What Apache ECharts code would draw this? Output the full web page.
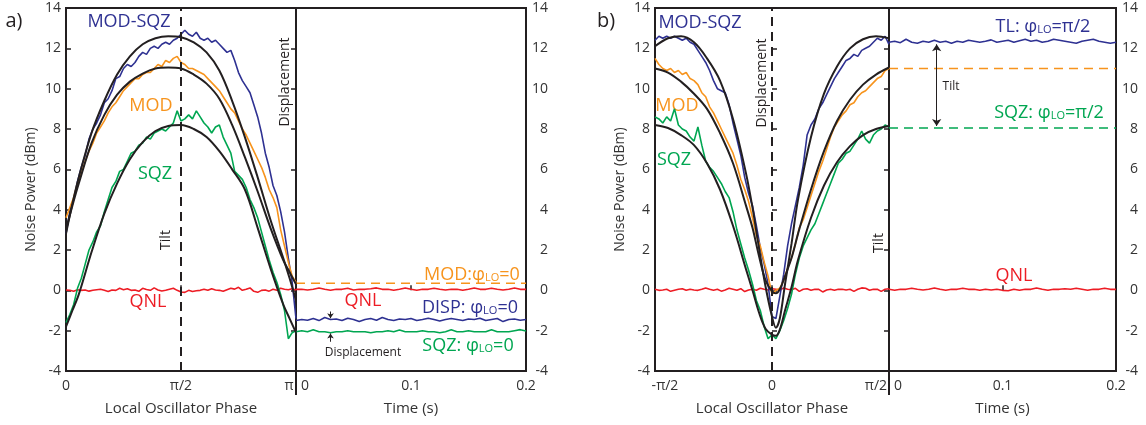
<!DOCTYPE html>
<html><head><meta charset="utf-8">
<script src="https://cdn.jsdelivr.net/npm/echarts@6/dist/echarts.min.js"></script>
<style>html,body{margin:0;padding:0;background:#fff}#c{width:1146px;height:425px}</style>
</head><body><div id="c"></div><script>
// ---------- DATA ----------
const phaseA = [0,3,6,9,12,15,18,21,24,27,30,33,36,39,42,45,48,51,54,57,60,63,66,69,72,75,78,81,84,87,90,93,96,99,102,105,108,111,114,117,120,123,126,129,132,135,138,141,144,147,150,153,156,159,162,165,168,171,174,177,180];
const phaseB = [-90,-87,-84,-81,-78,-75,-72,-69,-66,-63,-60,-57,-54,-51,-48,-45,-42,-39,-36,-33,-30,-27,-24,-21,-18,-15,-12,-9,-6,-3,0,3,6,9,12,15,18,21,24,27,30,33,36,39,42,45,48,51,54,57,60,63,66,69,72,75,78,81,84,87,90];
const timeS = [0,0.005,0.01,0.015,0.02,0.025,0.03,0.035,0.04,0.045,0.05,0.055,0.06,0.065,0.07,0.075,0.08,0.085,0.09,0.095,0.1,0.105,0.11,0.115,0.12,0.125,0.13,0.135,0.14,0.145,0.15,0.155,0.16,0.165,0.17,0.175,0.18,0.185,0.19,0.195,0.2];

// panel a, measured (phase scan)
const modSqzA = [2.8,3.9,4.5,5.4,6.1,6.7,7.5,8.0,8.3,8.7,9.3,9.5,9.9,10.5,10.6,11.0,11.2,11.1,11.3,11.6,11.8,11.7,12.0,12.1,12.0,12.2,12.3,12.2,12.4,12.5,12.7,12.9,12.7,12.6,12.8,12.5,12.4,12.5,12.3,12.4,12.2,12.0,11.8,11.9,11.4,10.8,10.4,10.1,9.8,9.2,8.6,7.8,6.8,6.1,5.2,4.7,3.9,2.9,1.6,0.4,-1.4];
const modA = [3.6,4.1,4.6,5.3,5.8,6.4,6.9,7.3,7.8,8.1,8.4,8.8,9.1,9.3,9.6,9.9,10.1,10.3,10.5,10.5,10.7,10.8,10.8,11.0,11.2,11.1,11.4,11.3,11.5,11.6,11.3,11.2,11.0,11.0,10.9,10.8,10.7,10.5,10.3,10.1,9.9,9.6,9.3,9.0,8.8,8.4,8.0,7.7,7.3,6.9,6.5,6.1,5.6,5.0,4.6,4.1,3.0,2.2,1.4,0.7,0.4];
const sqzA = [-1.6,-1.2,-0.7,0.1,0.6,1.3,2.0,2.4,2.9,3.2,3.9,4.5,5.1,5.4,5.9,6.0,6.4,6.8,6.9,7.2,7.3,7.6,7.5,7.8,7.9,8.0,7.9,8.1,8.3,8.9,8.4,8.5,8.7,8.5,8.9,8.6,8.3,8.1,7.8,8.1,8.2,7.6,7.2,6.8,5.9,5.7,5.5,5.1,4.5,4.1,3.6,2.9,2.2,1.5,0.9,0.4,-0.2,-1.0,-2.4,-2.1,-2.0];
const qnlA = [0.02,0.0,-0.05,0.03,0.0,0.02,-0.04,0.0,0.03,0.05,0.0,-0.06,0.02,0.0,0.1,0.03,0.08,0.0,0.02,-0.05,0.1,0.04,0.0,0.12,0.02,-0.03,0.0,0.05,0.1,0.0,-0.08,-0.1,0.0,-0.06,-0.02,0.0,0.05,0.0,0.08,0.02,0.0,-0.05,0.03,0.1,0.06,0.15,0.0,0.05,0.12,-0.05,-0.1,0.0,0.02,-0.04,0.05,0.0,0.1,0.05,0.03,0.08,0.02];
// panel a, fits
const fitPhaseA = [0,5,10,20,30,40,50,60,70,80,90,100,110,120,130,140,150,160,170,175,180];
const modSqzFitA = [2.8,4.3,5.6,7.8,9.4,10.7,11.6,12.2,12.5,12.6,12.55,12.3,11.8,10.9,9.4,7.6,5.6,3.5,1.6,0.6,-0.5];
const modFitA = [3.0,4.2,5.3,7.3,8.7,9.7,10.35,10.75,11.0,11.05,11.0,10.7,10.25,9.5,8.2,6.6,4.9,3.1,1.5,0.9,0.3];
const sqzFitA = [-1.8,-1.0,-0.2,1.9,3.8,5.3,6.5,7.35,7.9,8.15,8.2,8.0,7.6,6.9,6.0,5.0,3.1,1.1,-0.7,-1.4,-2.1];
// panel a, time traces
const qnlTimeA = [0.05,0.05,0.02,0.05,0.12,0.05,0.0,0.05,0.05,0.1,0.02,0.05,0.05,0.08,0.12,0.05,0.05,0.0,0.05,0.12,0.05,0.0,0.05,0.05,0.1,0.05,0.02,0.05,0.05,0.0,0.05,0.12,0.05,0.05,0.1,0.05,0.02,0.05,0.12,0.05,0.05];
const dispTimeA = [-1.5,-1.45,-1.48,-1.4,-1.5,-1.35,-1.45,-1.42,-1.5,-1.38,-1.45,-1.55,-1.45,-1.4,-1.48,-1.35,-1.45,-1.5,-1.42,-1.45,-1.4,-1.5,-1.45,-1.38,-1.45,-1.52,-1.45,-1.4,-1.45,-1.5,-1.42,-1.45,-1.38,-1.5,-1.45,-1.4,-1.55,-1.45,-1.42,-1.48,-1.45];
const sqzTimeA = [-2.05,-2.0,-2.05,-1.95,-2.05,-2.05,-2.1,-2.05,-2.05,-2.0,-2.05,-2.05,-2.05,-2.1,-2.05,-2.05,-2.0,-2.05,-1.97,-2.05,-2.05,-2.05,-2.0,-2.05,-2.05,-2.1,-2.05,-1.96,-2.05,-2.05,-2.0,-2.05,-2.05,-2.05,-1.95,-2.05,-2.05,-2.05,-2.0,-1.95,-2.02];
const modLevelA = 0.35;

// panel b, measured
const modSqzB = [12.4,12.6,12.5,12.6,12.5,12.6,12.5,12.4,12.5,12.3,12.2,11.9,11.6,11.3,10.9,10.4,10.0,9.9,9.8,9.2,8.3,7.5,6.7,5.6,4.8,4.2,3.2,2.1,1.3,0.3,-1.3,-1.4,-0.3,0.8,2.2,3.3,4.2,5.1,6.2,7.7,8.2,8.5,9.0,9.3,9.7,10.1,10.5,10.8,11.1,11.4,11.5,11.7,11.6,11.9,12.0,12.1,12.3,12.5,12.4,12.6,12.2];
const modB = [11.5,11.2,11.0,10.9,11.0,10.8,10.9,10.7,10.8,10.5,10.4,10.2,9.8,9.6,9.1,8.8,8.4,8.0,7.6,7.2,6.8,6.2,5.5,5.0,4.4,3.6,2.7,2.2,1.4,0.7,-0.2,0.0,0.1,0.5,1.1,1.6,2.3,3.1,3.5,4.1,4.7,5.3,5.9,6.4,7.0,7.6,8.1,8.4,8.7,8.9,9.2,9.3,9.6,9.8,9.9,10.1,10.3,10.5,10.6,10.9,11.0];
const sqzB = [8.6,8.5,8.3,8.6,8.4,9.0,8.2,8.0,7.9,7.6,7.4,8.1,7.2,6.4,6.1,5.9,5.6,5.3,4.9,4.6,3.9,3.0,2.3,1.6,1.0,0.3,-0.5,-1.0,-1.8,-2.4,-2.2,-2.4,-2.0,-1.5,-0.9,-0.2,0.8,1.6,2.2,2.6,3.0,3.3,3.8,4.3,4.8,5.3,5.8,6.3,6.5,6.8,6.9,7.2,7.5,7.9,7.5,7.3,7.7,7.9,8.0,8.2,8.1];
const qnlB = [0.05,0.0,0.02,0.05,-0.05,0.0,0.05,0.08,0.0,0.05,0.02,0.0,0.05,0.12,0.05,0.0,0.05,-0.04,0.02,0.1,0.05,0.0,0.08,-0.06,0.02,0.05,0.0,0.1,0.05,0.02,0.08,0.05,0.0,0.12,0.05,0.03,0.1,-0.05,0.05,0.08,0.0,0.05,0.05,-0.08,0.02,0.05,0.0,0.05,0.05,0.02,0.05,-0.05,0.05,0.12,0.1,0.0,0.05,0.05,-0.05,0.05,0.08];
// panel b, fits
const fitPhaseB = [-90,-80,-70,-60,-50,-40,-30,-20,-15,-10,-5,0,3,6,10,15,20,30,40,50,60,70,80,90];
const modSqzFitB = [12.1,12.5,12.6,12.3,11.5,10.4,8.5,5.8,4.1,2.1,0.2,-1.3,-1.85,-1.4,0.3,2.3,4.5,7.6,9.75,11.1,12.0,12.45,12.6,12.5];
const modFitB = [11.0,10.8,10.35,9.75,9.0,7.8,6.3,4.2,3.1,1.7,0.5,-0.05,-0.15,0.05,0.7,1.6,2.8,5.0,6.9,8.4,9.45,10.2,10.7,11.05];
const sqzFitB = [8.2,8.05,7.7,7.2,6.3,5.0,3.2,1.05,0.0,-1.1,-1.9,-2.2,-2.25,-1.95,-1.0,0.15,1.5,3.6,5.2,6.35,7.15,7.7,8.0,8.15];
// panel b, time traces
const tlTimeB = [12.3,12.35,12.28,12.45,12.3,12.25,12.35,12.3,12.4,12.3,12.35,12.25,12.35,12.3,12.4,12.35,12.3,12.35,12.42,12.3,12.35,12.4,12.3,12.38,12.45,12.35,12.4,12.3,12.35,12.45,12.4,12.35,12.3,12.25,12.35,12.4,12.45,12.35,12.3,12.25,12.3];
const qnlTimeB = [0.05,0.0,0.05,0.05,0.1,0.05,0.02,0.05,0.12,0.05,0.0,0.05,0.05,0.1,0.05,0.05,0.0,0.05,0.02,0.05,0.0,-0.02,0.05,0.0,0.05,0.05,0.12,0.05,0.0,0.05,0.05,0.08,0.05,0.1,0.05,0.0,0.05,0.05,0.1,0.05,0.05];
const modLevelB = 11.0;
const sqzLevelB = 8.05;

// tick label text (rich style names pick the nudge direction)
const phaseTicksA = {0:'0', 90:'π/2', 180:'{r|π}'};
const phaseTicksB = {'-90':'{l|-π/2}', 0:'0', 90:'{rr|π/2}'};
const timeTicks = {0:'{l0|0}', 0.1:'0.1', 0.2:'0.2'};

// ---------- STYLE ----------
const BLUE='#2e3192', ORANGE='#f7941d', GREEN='#00a651', RED='#ed1c24', BLACK='#231f20', TXT='#333';
const FONT='"Open Sans", "DejaVu Sans", sans-serif';
const pairs=(xs,ys)=>xs.map((x,i)=>[x,ys[i]]);

function ln(gi, data, color, w, extra){
  return Object.assign({type:'line', xAxisIndex:gi, yAxisIndex:gi, data, showSymbol:false, symbol:'none',
    lineStyle:{color, width:w}, itemStyle:{color}, animation:false, silent:true}, extra||{});
}
function fit(gi, xs, ys){ return ln(gi, pairs(xs,ys), BLACK, 2, {smooth:0.35, z:5}); }
function flat(gi, level, color){ return ln(gi, [[0,level],[0.2,level]], color, 1.6, {lineStyle:{color, width:1.6, type:[9,6]}}); }

const grids=[
  {left:66, top:8, width:230, height:363},
  {left:296, top:8, width:230, height:363},
  {left:655, top:8, width:234, height:363},
  {left:889, top:8, width:227, height:363}
].map(g=>Object.assign(g,{show:true, borderColor:BLACK, borderWidth:2}));

const lblBase = {fontSize:14, color:TXT, fontFamily:FONT};
const richNudge = {
  r:  Object.assign({padding:[0,14,0,0]}, lblBase),
  rr: Object.assign({padding:[0,26,0,0]}, lblBase),
  l:  Object.assign({padding:[0,0,0,20]}, lblBase),
  l0: Object.assign({padding:[0,0,0,18]}, lblBase)
};
function xAx(gi,min,max,interval,fmt,name){
  return {type:'value', gridIndex:gi, min, max, interval, name, nameLocation:'middle', nameGap:30,
    nameTextStyle:{fontSize:15, color:TXT, fontFamily:FONT},
    axisLine:{show:false}, splitLine:{show:false},
    axisTick:{inside:true, length:5, lineStyle:{color:BLACK, width:1.5}},
    axisLabel:Object.assign({formatter:fmt, margin:8, rich:richNudge}, lblBase)};
}
function yAx(gi,side,name){
  return {type:'value', gridIndex:gi, min:-4, max:14, interval:2, position:side, name,
    nameLocation:'middle', nameGap:28, nameTextStyle:{fontSize:14, color:TXT, fontFamily:FONT},
    axisLine:{show:false}, splitLine:{show:false},
    axisTick:{inside:true, length:5, lineStyle:{color:BLACK, width:1.5}},
    axisLabel: side==='left' ? Object.assign({margin:5}, lblBase)
                             : Object.assign({margin:22, align:'right'}, lblBase)};
}
const tfmt = v => { const k = Math.round(v*10)/10; return timeTicks[k] || String(k); };

const vDash = (x)=>({silent:true, symbol:['none','none'], label:{show:false}, animation:false,
  lineStyle:{color:BLACK, width:2, type:[9,6]}, data:[{xAxis:x}]});
const arrowML = (pairsList, sym, size)=>({silent:true, symbol:sym, symbolSize:size, label:{show:false}, animation:false,
  lineStyle:{color:BLACK, width:1, type:'solid'}, data:pairsList});

const series=[
  // panel a, phase
  ln(0, pairs(phaseA,qnlA), RED, 1.6, {markLine: vDash(90)}),
  ln(0, pairs(phaseA,modSqzA), BLUE, 1.6),
  ln(0, pairs(phaseA,modA), ORANGE, 1.6),
  ln(0, pairs(phaseA,sqzA), GREEN, 1.6),
  fit(0, fitPhaseA, modSqzFitA), fit(0, fitPhaseA, modFitA), fit(0, fitPhaseA, sqzFitA),
  // panel a, time
  flat(1, modLevelA, ORANGE),
  ln(1, pairs(timeS,qnlTimeA), RED, 1.6),
  ln(1, pairs(timeS,dispTimeA), BLUE, 1.6, {markLine: arrowML([[{coord:[0.03,-1.05]},{coord:[0.03,-1.38]}]], ['none','arrow'], 5)}),
  ln(1, pairs(timeS,sqzTimeA), GREEN, 1.6, {markLine: arrowML([[{coord:[0.03,-2.55]},{coord:[0.03,-2.14]}]], ['none','arrow'], 5)}),
  // panel b, phase
  ln(2, pairs(phaseB,qnlB), RED, 1.6, {markLine: vDash(0)}),
  ln(2, pairs(phaseB,modSqzB), BLUE, 1.6),
  ln(2, pairs(phaseB,modB), ORANGE, 1.6),
  ln(2, pairs(phaseB,sqzB), GREEN, 1.6),
  fit(2, fitPhaseB, modSqzFitB), fit(2, fitPhaseB, modFitB), fit(2, fitPhaseB, sqzFitB),
  // panel b, time
  flat(3, modLevelB, ORANGE),
  flat(3, sqzLevelB, GREEN),
  ln(3, pairs(timeS,qnlTimeB), RED, 1.6),
  ln(3, pairs(timeS,tlTimeB), BLUE, 1.6, {markLine: arrowML([[{coord:[0.042,12.2]},{coord:[0.042,8.15]}]], ['arrow','arrow'], 7)})
];

function T(x,y,text,color,size,rot){
  return {type:'text', x, y, rotation: rot||0, silent:true,
    style:{text, fill:color, font:`${size}px ${FONT}`, align:'center', verticalAlign:'middle'}};
}
function R(x,y,text,color){
  return {type:'text', x, y, silent:true,
    style:{text, fill:color, align:'center', verticalAlign:'middle',
      rich:{a:{fontSize:18, fontFamily:FONT, fill:color, verticalAlign:'bottom', lineHeight:22},
            s:{fontSize:11, fontFamily:FONT, fill:color, verticalAlign:'bottom', lineHeight:22, padding:[0,0,1,0]}}}};
}
const R90 = Math.PI/2;
const graphic=[
  {type:'line', silent:true, shape:{x1:296,y1:371,x2:296,y2:395}, style:{stroke:BLACK, lineWidth:2}},
  {type:'line', silent:true, shape:{x1:889,y1:371,x2:889,y2:395}, style:{stroke:BLACK, lineWidth:2}},
  T(14,21,'a)',BLACK,20), T(606,21,'b)',BLACK,20),
  T(129,22,'MOD-SQZ',BLUE,18), T(151,106,'MOD',ORANGE,18), T(155,174,'SQZ',GREEN,18), T(148,302,'QNL',RED,18),
  T(166,240,'Tilt',BLACK,14,R90), T(285,82,'Displacement',BLACK,14,R90),
  T(363,301,'QNL',RED,18),
  R(472,273,'{a|MOD:φ}{s|LO}{a|=0}',ORANGE),
  R(470,306,'{a|DISP: φ}{s|LO}{a|=0}',BLUE),
  R(468,344,'{a|SQZ: φ}{s|LO}{a|=0}',GREEN),
  T(363,353,'Displacement',BLACK,12),
  T(700,23,'MOD-SQZ',BLUE,18), T(677,106,'MOD',ORANGE,18), T(674,160,'SQZ',GREEN,18),
  T(762,83,'Displacement',BLACK,14,R90), T(879,243,'Tilt',BLACK,14,R90),
  R(1043,25,'{a|TL: φ}{s|LO}{a|=π/2}',BLUE),
  R(1049,111,'{a|SQZ: φ}{s|LO}{a|=π/2}',GREEN),
  T(951,87,'Tilt',BLACK,12),
  T(1014,276,'QNL',RED,18)
];

const chart = echarts.init(document.getElementById('c'), null, {renderer:'canvas'});
chart.setOption({
  animation:false,
  backgroundColor:'#fff',
  grid: grids,
  xAxis:[
    xAx(0,0,180,90,v=>phaseTicksA[v]||'', 'Local Oscillator Phase'),
    xAx(1,0,0.2,0.1,tfmt,'Time (s)'),
    xAx(2,-90,90,90,v=>phaseTicksB[v]||'', 'Local Oscillator Phase'),
    xAx(3,0,0.2,0.1,tfmt,'Time (s)')
  ],
  yAxis:[ yAx(0,'left','Noise Power (dBm)'), yAx(1,'right',''), yAx(2,'left','Noise Power (dBm)'), yAx(3,'right','') ],
  series,
  graphic
});
</script></body></html>
